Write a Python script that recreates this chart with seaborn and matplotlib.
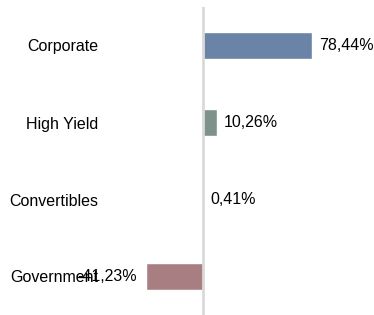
import matplotlib
matplotlib.use("Agg")
import matplotlib.pyplot as plt
import seaborn as sns
import pandas as pd

categories = ["Corporate", "High Yield", "Convertibles", "Government"]
values = [78.44, 10.26, 0.41, -41.23]
labels = ["78,44%", "10,26%", "0,41%", "-41,23%"]
colors = ["#6b83a6", "#7e918a", "#7e918a", "#a97e83"]

sns.set_style("white")
plt.rcParams["font.family"] = ["Liberation Sans", "DejaVu Sans"]
plt.rcParams["text.color"] = "black"
plt.rcParams["ytick.color"] = "black"

df = pd.DataFrame({"category": categories, "value": values})

fig = plt.figure(figsize=(3.74, 3.15), dpi=100)
ax = fig.add_axes([105 / 374, 0.0, 1 - 105 / 374, 308 / 315])

sns.barplot(data=df, x="value", y="category", hue="category", palette=colors,
            orient="h", width=0.36, legend=False, ax=ax, saturation=1)

# zero line
ax.axvline(0, color="#d9d9d9", lw=2, zorder=5)
ax.set_xlim(-70.5, 123)
ax.set_ylim(3.5, -0.5)
for s in ax.spines.values():
    s.set_visible(False)
ax.set_xticks([])
ax.set_xlabel("")
ax.set_ylabel("")
ax.tick_params(axis="y", length=0, pad=5, labelsize=11.5, labelcolor="black")

for i, (v, t) in enumerate(zip(values, labels)):
    if v >= 0:
        ax.text(v + 5, i, t, ha="left", va="center", fontsize=11.5, color="black", clip_on=False)
    else:
        ax.text(v - 6, i, t, ha="right", va="center", fontsize=11.5, color="black", clip_on=False)

fig.savefig("out.png", dpi=100)
